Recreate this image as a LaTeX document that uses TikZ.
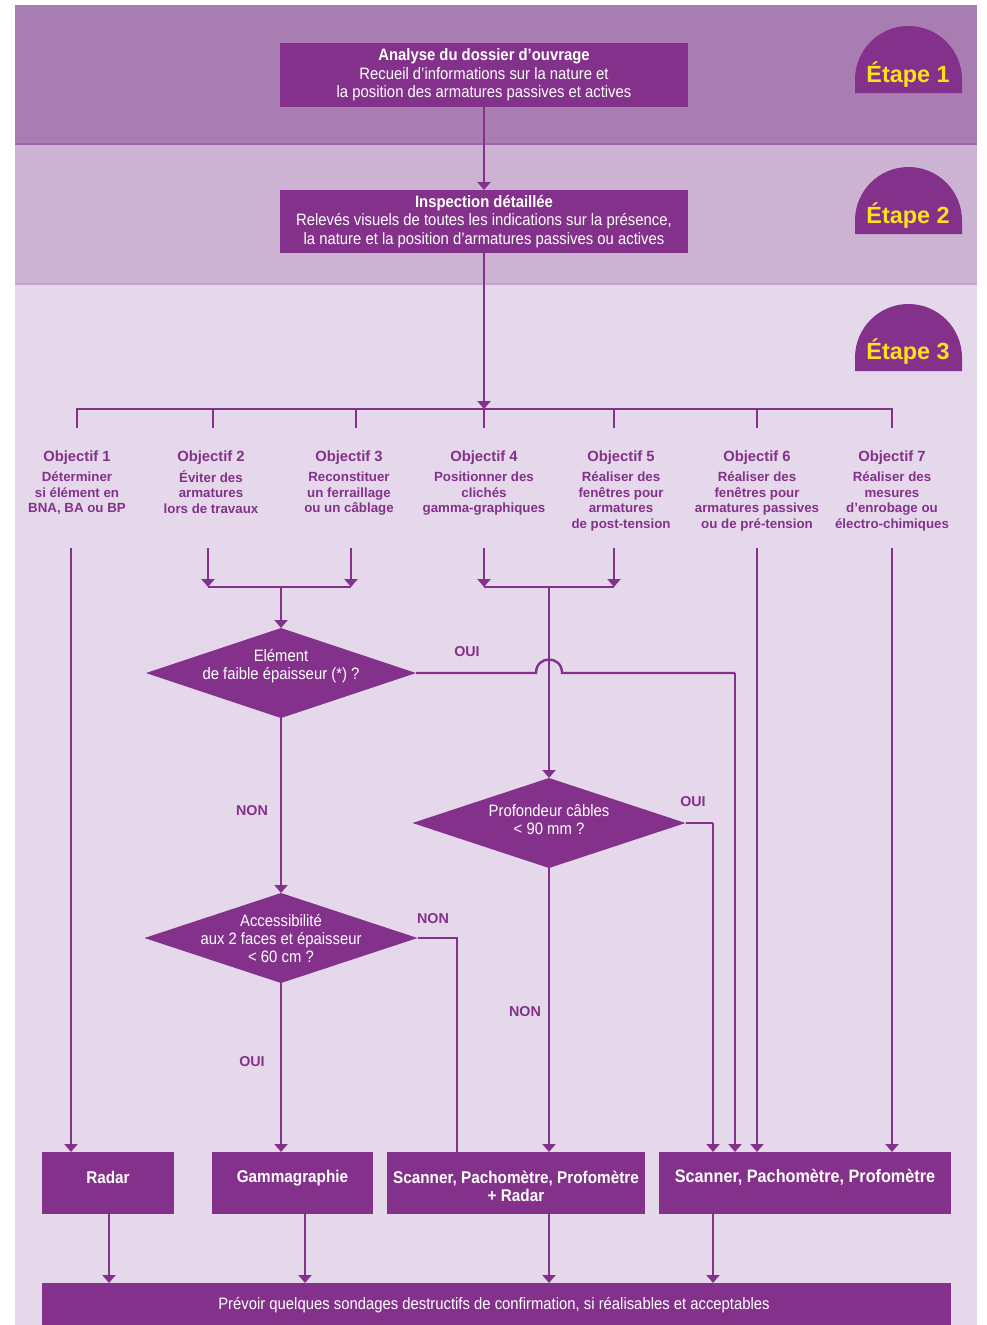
\documentclass[tikz,border=0pt]{standalone}
\usepackage{fontspec}
\setmainfont{Liberation Sans}
\newfontfamily\cond[FakeStretch=0.9]{Liberation Sans}
\usetikzlibrary{arrows.meta,shapes.geometric,calc}
\definecolor{dp}{HTML}{84318B}
\definecolor{bandA}{HTML}{A87DB2}
\definecolor{bandB}{HTML}{CCB3D4}
\definecolor{bandC}{HTML}{E4D8EA}
\definecolor{sepA}{HTML}{9A66A6}
\definecolor{sepB}{HTML}{C2A4CC}
\definecolor{yel}{HTML}{FFE11B}
\begin{document}
\begin{tikzpicture}[x=1pt,y=-1pt,
  every node/.style={inner sep=0pt, outer sep=0pt},
  conn/.style={draw=dp, line width=2.4pt},
  arr/.style={conn, -{Triangle[width=13pt,length=8pt]}},
  pbox/.style={fill=dp, text=white, align=center, font=\cond\fontsize{16.5}{18.5}\selectfont},
  rbox/.style={fill=dp},
  rtxt/.style={text=white, align=center, font=\cond\bfseries\fontsize{17}{18}\selectfont},
  dia/.style={diamond, fill=dp, shape aspect=3},
  dtxt/.style={text=white, align=center, font=\cond\fontsize{16.5}{18}\selectfont},
  objt/.style={text=dp, anchor=north, font=\bfseries\fontsize{14.8}{17}\selectfont},
  objd/.style={text=dp, anchor=north, align=center, font=\bfseries\fontsize{13.3}{15.7}\selectfont},
  lab/.style={text=dp, font=\bfseries\fontsize{14.3}{15}\selectfont},
  dome/.style={fill=dp},
  etape/.style={text=yel, font=\bfseries\fontsize{23.4}{25}\selectfont},
]
\useasboundingbox (0,0) rectangle (986,1325);
\fill[white] (0,0) rectangle (986,1325);
\fill[bandA] (15,5) rectangle (977,144);
\fill[bandB] (15,144) rectangle (977,284);
\fill[bandC] (15,284) rectangle (977,1325);
\draw[sepA, line width=2pt] (15,144) -- (977,144);
\draw[sepB, line width=2pt] (15,284) -- (977,284);

% Etape badges
\fill[dome] (855,93) -- (855,79.5) .. controls (855,50) and (879,26) .. (908.5,26) .. controls (938,26) and (962,50) .. (962,79.5) -- (962,93) -- cycle;
\node[etape] (e1) at (908,75) {Étape 1};
\fill[dome] (855,234) -- (855,220.5) .. controls (855,191) and (879,167) .. (908.5,167) .. controls (938,167) and (962,191) .. (962,220.5) -- (962,234) -- cycle;
\node[etape] (e2) at (908,216) {Étape 2};
\fill[dome] (855,371) -- (855,357.5) .. controls (855,328) and (879,304) .. (908.5,304) .. controls (938,304) and (962,328) .. (962,357.5) -- (962,371) -- cycle;
\node[etape] (e3) at (908,352) {Étape 3};

% top boxes
\node[pbox, minimum width=408, minimum height=64] (b1) at (484,75)
  {{\bfseries Analyse du dossier d’ouvrage}\\Recueil d’informations sur la nature et\\la position des armatures passives et actives};
\node[pbox, minimum width=408, minimum height=63] (b2) at (484,221.5)
  {{\bfseries Inspection détaillée}\\Relevés visuels de toutes les indications sur la présence,\\la nature et la position d’armatures passives ou actives};

\coordinate (bar) at (484,409);
\draw[arr] (b1.south) -- (b2.north);
\draw[arr] (b2.south) -- (bar);

% distribution bar
\coordinate (t1) at (77,428);
\coordinate (t2) at (213,428);
\coordinate (t3) at (356,428);
\coordinate (t4) at (484,428);
\coordinate (t5) at (614,428);
\coordinate (t6) at (757,428);
\coordinate (t7) at (892,428);
\draw[conn] (t1) |- (bar) -| (t7);
\foreach \i in {2,...,6} \draw[conn] (t\i) -- (t\i |- bar);

% objectives
\node[objt] (ot1) at (77,450) {\strut Objectif 1};
\node[objt] (ot2) at (211,450) {\strut Objectif 2};
\node[objt] (ot3) at (349,450) {\strut Objectif 3};
\node[objt] (ot4) at (484,450) {\strut Objectif 4};
\node[objt] (ot5) at (621,450) {\strut Objectif 5};
\node[objt] (ot6) at (757,450) {\strut Objectif 6};
\node[objt] (ot7) at (892,450) {\strut Objectif 7};
\node[objd] (od1) at (77,470.5) {\strut Déterminer\\si élément en\\BNA, BA ou BP};
\node[objd] (od2) at (211,470.5) {\strut Éviter des\\armatures\\lors de travaux};
\node[objd] (od3) at (349,470.5) {\strut Reconstituer\\un ferraillage\\ou un câblage};
\node[objd] (od4) at (484,470.5) {\strut Positionner des\\clichés\\gamma-graphiques};
\node[objd] (od5) at (621,470.5) {\strut Réaliser des\\fenêtres pour\\armatures\\de post-tension};
\node[objd] (od6) at (757,470.5) {\strut Réaliser des\\fenêtres pour\\armatures passives\\ou de pré-tension};
\node[objd] (od7) at (892,470.5) {\strut Réaliser des\\mesures\\d’enrobage ou\\électro-chimiques};

% diamonds
\node[dia, minimum width=270, minimum height=90] (d1) at (281,673) {};
\node[dtxt] (d1t) at (281,666) {Elément\\de faible épaisseur (*) ?};
\node[dia, minimum width=273, minimum height=90] (d2) at (549,823) {};
\node[dtxt] (d2t) at (549,820) {Profondeur câbles\\< 90 mm ?};
\node[dia, minimum width=273, minimum height=90] (d3) at (281,938) {};
\node[dtxt] (d3t) at (d3.center) {Accessibilité\\aux 2 faces et épaisseur\\< 60 cm ?};

% result boxes
\node[rbox, minimum width=132, minimum height=62] (r1) at (108,1183) {};
\node[rtxt] (r1t) at (108,1177) {Radar};
\node[rbox, minimum width=161, minimum height=62] (r2) at (292.5,1183) {};
\node[rtxt] (r2t) at (292.5,1178) {Gammagraphie};
\node[rbox, minimum width=258, minimum height=62] (r3) at (516,1183) {};
\node[rtxt] (r3t) at (516,1186) {Scanner, Pachomètre, Profomètre\\+ Radar};
\node[rbox, minimum width=292, minimum height=62] (r4) at (805,1183) {};
\node[rtxt, font=\cond\bfseries\fontsize{18}{18}\selectfont] (r4t) at (805,1177) {Scanner, Pachomètre, Profomètre};
\node[rbox, minimum width=909, minimum height=46] (fin) at (496.5,1306) {};
\node[text=white, font=\cond\fontsize{16.5}{18}\selectfont] (fint) at (494,1305) {Prévoir quelques sondages destructifs de confirmation, si réalisables et acceptables};

% objective outgoing lines
\coordinate (s1) at (71,548);
\coordinate (s2) at (208,548);
\coordinate (s3) at (351,548);
\coordinate (s4) at (484,548);
\coordinate (s5) at (614,548);
\coordinate (s6) at (757,548);
\coordinate (s7) at (892,548);
\coordinate (m23) at (281,587);
\coordinate (m45) at (549,587);
\draw[arr] (s1) -- (s1 |- r1.north);
\draw[arr] (s2) -- (s2 |- m23);
\draw[arr] (s3) -- (s3 |- m23);
\draw[conn] (s2 |- m23) -- (s3 |- m23);
\draw[arr] (s4) -- (s4 |- m45);
\draw[arr] (s5) -- (s5 |- m45);
\draw[conn] (s4 |- m45) -- (s5 |- m45);
\draw[arr] (m23) -- (d1.north);
\draw[arr] (m45) -- (d2.north);
\draw[arr] (s6) -- (s6 |- r4.north);
\draw[arr] (s7) -- (s7 |- r4.north);

% decision 1
\coordinate (j1) at (536,673);
\coordinate (j2) at (562,673);
\coordinate (k1) at (735,673);
\draw[conn] (d1.east) -- (j1) .. controls (536,655) and (562,655) .. (j2) -- (k1);
\draw[arr] (k1) -- (k1 |- r4.north);
\node[lab] (l1) at (467,652) {OUI};
\draw[arr] (d1.south) -- (d3.north);
\node[lab] (l2) at (252,811) {NON};

% decision 3
\coordinate (k3) at (457,938);
\draw[conn] (d3.east) -- (k3) -- (k3 |- r3.north);
\node[lab] (l3) at (433,919) {NON};
\draw[arr] (d3.south) -- (d3.south |- r2.north);
\node[lab] (l4) at (252,1062) {OUI};

% decision 2
\coordinate (k2) at (713,823);
\draw[conn] (d2.east) -- (k2);
\draw[arr] (k2) -- (k2 |- r4.north);
\node[lab] (l5) at (693,802) {OUI};
\draw[arr] (d2.south) -- (d2.south |- r3.north);
\node[lab] (l6) at (525,1012) {NON};

% to final
\draw[arr] (r1.south -| 109,0) -- (fin.north -| 109,0);
\draw[arr] (r2.south -| 305,0) -- (fin.north -| 305,0);
\draw[arr] (r3.south -| 549,0) -- (fin.north -| 549,0);
\draw[arr] (r4.south -| 713,0) -- (fin.north -| 713,0);
\end{tikzpicture}
\end{document}
